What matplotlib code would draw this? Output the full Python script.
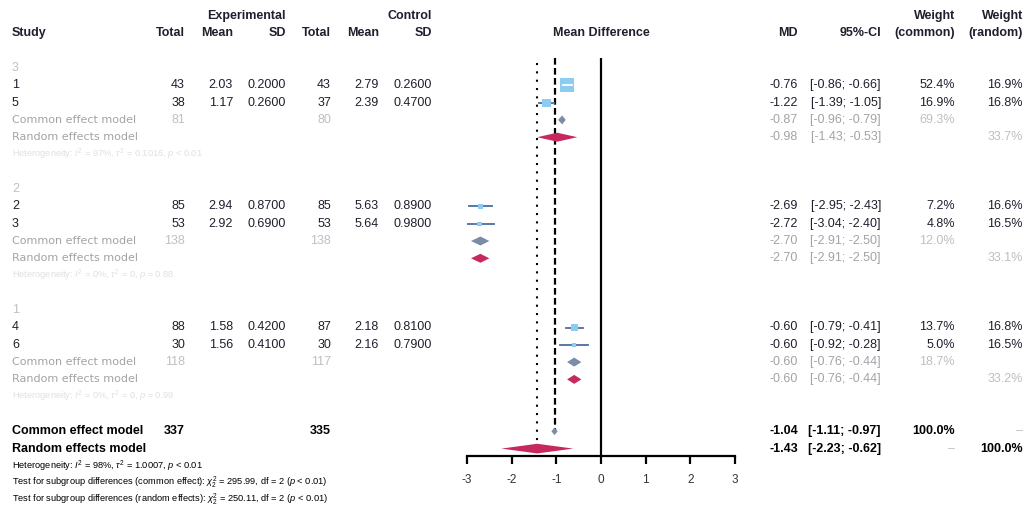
import matplotlib
matplotlib.use('Agg')
import matplotlib.pyplot as plt

plt.rcParams['font.family'] = ['Liberation Sans', 'DejaVu Sans']
plt.rcParams['mathtext.fontset'] = 'custom'
plt.rcParams['mathtext.rm'] = 'Liberation Sans'
plt.rcParams['mathtext.it'] = 'Liberation Sans:italic'

###############
### Data ###
###############

group_labels = ['3', '2', '1']
studies = [['1', '5'], ['2', '3'], ['4', '6']]

n_e = [[43, 38], [85, 53], [88, 30]]
mean_e = [[2.03, 1.17], [2.94, 2.92], [1.58, 1.56]]
sd_e = [[0.2000, 0.2600], [0.8700, 0.6900], [0.4200, 0.4100]]
n_c = [[43, 37], [85, 53], [87, 30]]
mean_c = [[2.79, 2.39], [5.63, 5.64], [2.18, 2.16]]
sd_c = [[0.2600, 0.4700], [0.8900, 0.9800], [0.8100, 0.7900]]

md = [[-0.76, -1.22], [-2.69, -2.72], [-0.60, -0.60]]
md_lo = [[-0.86, -1.39], [-2.95, -3.04], [-0.79, -0.92]]
md_hi = [[-0.66, -1.05], [-2.43, -2.40], [-0.41, -0.28]]
w_common = [[52.4, 16.9], [7.2, 4.8], [13.7, 5.0]]
w_random = [[16.9, 16.8], [16.6, 16.5], [16.8, 16.5]]

sub_n_e = [81, 138, 118]
sub_n_c = [80, 138, 117]
sub_ce = [-0.87, -2.70, -0.60]
sub_ce_lo = [-0.96, -2.91, -0.76]
sub_ce_hi = [-0.79, -2.50, -0.44]
sub_re = [-0.98, -2.70, -0.60]
sub_re_lo = [-1.43, -2.91, -0.76]
sub_re_hi = [-0.53, -2.50, -0.44]
sub_w_common = [69.3, 12.0, 18.7]
sub_w_random = [33.7, 33.1, 33.2]
sub_het = [
    r'Heterogeneity: $I^2$ = 97%, $\tau^2$ = 0.1016, $p$ < 0.01',
    r'Heterogeneity: $I^2$ = 0%, $\tau^2$ = 0, $p$ = 0.88',
    r'Heterogeneity: $I^2$ = 0%, $\tau^2$ = 0, $p$ = 0.99',
]

total_n_e, total_n_c = 337, 335
overall_ce, overall_ce_lo, overall_ce_hi = -1.04, -1.11, -0.97
overall_re, overall_re_lo, overall_re_hi = -1.43, -2.23, -0.62

xticks = [-3, -2, -1, 0, 1, 2, 3]

#############
### Style ###
#############

ROW0_PX, ROW_PX = 68, 17.3
W, H = 1026, 505

def r_of(px):
    return (px - ROW0_PX) / ROW_PX

C_TXT = '#1f1f2e'
C_GREY = '#a3a3a8'
C_LIGHT = '#bfbfc4'
C_FAINT = '#e0e0e5'
C_SQ = '#8ecbf3'
C_CI = '#4b6e9e'
C_CE = '#7a8ca6'
C_RE = '#c62a5d'

fig = plt.figure(figsize=(W / 100, H / 100), dpi=100)

ax = fig.add_axes([0, 0, 1, 1])
ax.set_xlim(0, W)
ax.set_ylim(r_of(H), r_of(0))
ax.axis('off')

axf = fig.add_axes([467 / W, (H - 456) / H, (735 - 467) / W, (456 - 50) / H])
axf.set_xlim(-3, 3)
axf.set_ylim(r_of(456), r_of(50))
axf.patch.set_alpha(0)
for s in ['top', 'left', 'right']:
    axf.spines[s].set_visible(False)
axf.spines['bottom'].set_linewidth(1.6)
axf.set_yticks([])
axf.set_xticks(xticks)
axf.set_xticklabels([str(t) for t in xticks])
axf.tick_params(axis='x', length=6, width=1.6, pad=7, labelsize=8.5, labelcolor='#333333')

FS = 9
col_x = dict(n_e=185, mean_e=233, sd_e=286, n_c=331, mean_c=379, sd_c=432,
             md=798, ci=881, wc=955, wr=1023)

def txt(x, r, s, ha='right', **kw):
    kw.setdefault('fontsize', FS)
    kw.setdefault('color', C_TXT)
    ax.text(x, r, s, ha=ha, va='center', **kw)

# Headers
txt(286, -3, 'Experimental', fontweight='bold')
txt(432, -3, 'Control', fontweight='bold')
txt(955, -3, 'Weight', fontweight='bold')
txt(1023, -3, 'Weight', fontweight='bold')
txt(12, -2, 'Study', ha='left', fontweight='bold')
for key, lab in [('n_e', 'Total'), ('mean_e', 'Mean'), ('sd_e', 'SD'),
                 ('n_c', 'Total'), ('mean_c', 'Mean'), ('sd_c', 'SD'),
                 ('md', 'MD'), ('ci', '95%-CI'), ('wc', '(common)'), ('wr', '(random)')]:
    txt(col_x[key], -2, lab, fontweight='bold')
txt(601, -2, 'Mean Difference', ha='center', fontweight='bold')

def diamond(a, est, lo, hi, r, h, color):
    a.fill([lo, est, hi, est], [r, r - h, r, r + h], color=color, lw=0, clip_on=False, zorder=3)

px_per_unit = (735 - 467) / 6

for g in range(3):
    base = 7 * g
    txt(12, base, group_labels[g], ha='left', color=C_LIGHT)
    for i in range(2):
        r = base + 1 + i
        txt(12, r, studies[g][i], ha='left')
        txt(col_x['n_e'], r, f'{n_e[g][i]}')
        txt(col_x['mean_e'], r, f'{mean_e[g][i]:.2f}')
        txt(col_x['sd_e'], r, f'{sd_e[g][i]:.4f}')
        txt(col_x['n_c'], r, f'{n_c[g][i]}')
        txt(col_x['mean_c'], r, f'{mean_c[g][i]:.2f}')
        txt(col_x['sd_c'], r, f'{sd_c[g][i]:.4f}')
        txt(col_x['md'], r, f'{md[g][i]:.2f}')
        txt(col_x['ci'], r, f'[{md_lo[g][i]:.2f}; {md_hi[g][i]:.2f}]')
        txt(col_x['wc'], r, f'{w_common[g][i]:.1f}%')
        txt(col_x['wr'], r, f'{w_random[g][i]:.1f}%')

        # study square, size from common weight
        side_px = 1.95 * w_common[g][i] ** 0.5
        half_x = side_px / 2 / px_per_unit
        half_y = side_px / 2 / ROW_PX
        axf.plot([md_lo[g][i], md_hi[g][i]], [r, r], color=C_CI, lw=1.3, zorder=2)
        axf.add_patch(plt.Rectangle((md[g][i] - half_x, r - half_y), 2 * half_x, 2 * half_y,
                                    color=C_SQ, lw=0, zorder=3))
        if md_hi[g][i] - md_lo[g][i] < 2 * half_x:
            axf.plot([md_lo[g][i], md_hi[g][i]], [r, r], color='white', lw=1.3, zorder=4)

    rc, rr, rh = base + 3, base + 4, base + 5
    txt(12, rc, 'Common effect model', ha='left', color=C_GREY, family='DejaVu Sans', fontsize=8)
    txt(12, rr, 'Random effects model', ha='left', color=C_GREY, family='DejaVu Sans', fontsize=8)
    txt(col_x['n_e'], rc, f'{sub_n_e[g]}', color=C_LIGHT)
    txt(col_x['n_c'], rc, f'{sub_n_c[g]}', color=C_LIGHT)
    txt(col_x['md'], rc, f'{sub_ce[g]:.2f}', color=C_GREY)
    txt(col_x['ci'], rc, f'[{sub_ce_lo[g]:.2f}; {sub_ce_hi[g]:.2f}]', color=C_GREY)
    txt(col_x['wc'], rc, f'{sub_w_common[g]:.1f}%', color=C_LIGHT)
    txt(col_x['md'], rr, f'{sub_re[g]:.2f}', color=C_GREY)
    txt(col_x['ci'], rr, f'[{sub_re_lo[g]:.2f}; {sub_re_hi[g]:.2f}]', color=C_GREY)
    txt(col_x['wr'], rr, f'{sub_w_random[g]:.1f}%', color=C_LIGHT)
    txt(12, rh, sub_het[g], ha='left', color=C_FAINT, fontsize=6.7)

    diamond(axf, sub_ce[g], sub_ce_lo[g], sub_ce_hi[g], rc, 0.26, C_CE)
    diamond(axf, sub_re[g], sub_re_lo[g], sub_re_hi[g], rr, 0.26, C_RE)

# Overall
txt(12, 21, 'Common effect model', ha='left', fontweight='bold', color='black')
txt(12, 22, 'Random effects model', ha='left', fontweight='bold', color='black')
txt(col_x['n_e'], 21, f'{total_n_e}', fontweight='bold', color='black')
txt(col_x['n_c'], 21, f'{total_n_c}', fontweight='bold', color='black')
txt(col_x['md'], 21, f'{overall_ce:.2f}', fontweight='bold', color='black')
txt(col_x['ci'], 21, f'[{overall_ce_lo:.2f}; {overall_ce_hi:.2f}]', fontweight='bold', color='black')
txt(col_x['wc'], 21, '100.0%', fontweight='bold', color='black')
txt(col_x['wr'], 21, '\u2013', color=C_LIGHT)
txt(col_x['md'], 22, f'{overall_re:.2f}', fontweight='bold', color='black')
txt(col_x['ci'], 22, f'[{overall_re_lo:.2f}; {overall_re_hi:.2f}]', fontweight='bold', color='black')
txt(col_x['wc'], 22, '\u2013', color=C_LIGHT)
txt(col_x['wr'], 22, '100.0%', fontweight='bold', color='black')

diamond(axf, overall_ce, overall_ce_lo, overall_ce_hi, 21, 0.22, C_CE)
diamond(axf, overall_re, overall_re_lo, overall_re_hi, 22, 0.28, C_RE)

txt(12, 23, r'Heterogeneity: $I^2$ = 98%, $\tau^2$ = 1.0007, $p$ < 0.01', ha='left', fontsize=6.7, color='black')
txt(12, 23.95, r'Test for subgroup differences (common effect): $\chi^2_2$ = 295.99, df = 2 ($p$ < 0.01)',
    ha='left', fontsize=6.7, color='black')
txt(12, 24.9, r'Test for subgroup differences (random effects): $\chi^2_2$ = 250.11, df = 2 ($p$ < 0.01)',
    ha='left', fontsize=6.7, color='black')

# Reference lines
axf.vlines(0, r_of(58), r_of(456), color='black', lw=1.6, zorder=1)
axf.vlines(overall_ce, r_of(58), 21, color='black', lw=1.6, linestyles=(0, (3, 1.5)), zorder=1)
axf.vlines(overall_re, r_of(63), 22, color='black', lw=1.5, linestyles=(0, (1, 3)), zorder=1)

fig.savefig('out.png', dpi=100)
